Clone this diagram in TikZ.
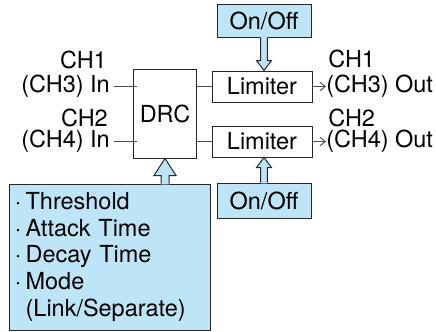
\documentclass[tikz,border=0pt]{standalone}
\usepackage{fontspec}
\setmainfont{TeX Gyre Heros}
\usetikzlibrary{arrows.meta,calc}

\definecolor{setblue}{RGB}{190,228,248}
\newcommand{\diafont}{\fontsize{17.6pt}{19.9pt}\selectfont}
\newcommand{\dotitem}{\makebox[9.5pt][l]{\hspace{1.5pt}·}}
% hollow block arrow: from, to, shaft half width, head half width, head length
\newcommand{\fatarrow}[5]{%
  \path[fill=setblue] let \p1=(#1), \p2=(#2), \n1={(\y2-\y1)/abs(\y2-\y1)} in
    ({\x1-#3},{\y1-(\n1)*0.6pt}) -- ({\x1-#3},{\y2-(\n1)*#5}) -- ({\x1-#4},{\y2-(\n1)*#5})
    -- (\x1,\y2) -- ({\x1+#4},{\y2-(\n1)*#5}) -- ({\x1+#3},{\y2-(\n1)*#5})
    -- ({\x1+#3},{\y1-(\n1)*0.6pt}) -- cycle;
  \draw[boxline] let \p1=(#1), \p2=(#2), \n1={(\y2-\y1)/abs(\y2-\y1)} in
    ({\x1-#3},\y1) -- ({\x1-#3},{\y2-(\n1)*#5}) -- ({\x1-#4},{\y2-(\n1)*#5})
    -- (\x1,\y2) -- ({\x1+#4},{\y2-(\n1)*#5}) -- ({\x1+#3},{\y2-(\n1)*#5})
    -- ({\x1+#3},\y1);}

\begin{document}
\begin{tikzpicture}[x=0.75pt,y=-0.75pt]
\tikzset{
  every node/.style={font=\diafont},
  boxline/.style={draw=black!85,line width=0.75pt,line join=miter},
  block/.style={boxline,rectangle,inner sep=0pt},
  setbox/.style={block,fill=setblue},
  chlabel/.style={inner sep=0pt},
  wire/.style={draw=black!70,line width=0.75pt},
  outwire/.style={wire,-{Straight Barb[length=4pt,width=6.5pt,line width=0.7pt]}}
}
\useasboundingbox (0,0) rectangle (436,332);
% blocks
\node[block,minimum width=47.25pt,minimum height=66.75pt] (drc) at (165,113.5) {DRC};
\node[block,minimum width=75pt,minimum height=23.25pt] (lim1) at (262,86.5) {Limiter};
\node[block,minimum width=75pt,minimum height=23.25pt] (lim2) at (262,141.5) {Limiter};
\node[setbox,minimum width=70.5pt,minimum height=24.75pt] (onoff1) at (264,20.5) {On/Off};
\node[setbox,minimum width=70.5pt,minimum height=26.25pt] (onoff2) at (264,200.5) {On/Off};
\node[setbox,minimum width=150.75pt,minimum height=109.5pt,inner xsep=3pt,
      text width=144.75pt,align=left] (params) at (109.5,257)
  {\dotitem Threshold\\
   \dotitem Attack Time\\
   \dotitem Decay Time\\
   \dotitem Mode\\
   \hspace*{9.5pt}(Link/Separate)};
% channel labels
\node[chlabel,anchor=east] (ch1in) at (107,59.5) {CH1};
\node[chlabel,anchor=east] (in1) at (110,86) {(CH3) In};
\node[chlabel,anchor=east] (ch2in) at (108,117.5) {CH2};
\node[chlabel,anchor=east] (in2) at (110,141.5) {(CH4) In};
\node[chlabel,anchor=west] (ch1out) at (328,59) {CH1};
\node[chlabel,anchor=west] (out1) at (326,86.5) {(CH3) Out};
\node[chlabel,anchor=west] (ch2out) at (328,118) {CH2};
\node[chlabel,anchor=west] (out2) at (326,141.5) {(CH4) Out};
% signal lines
\draw[wire] ([xshift=3pt]in1.east) -- ([xshift=3pt]in1.east -| drc.west);
\draw[wire] ([xshift=3pt]in2.east) -- ([xshift=3pt]in2.east -| drc.west);
\draw[wire] (drc.east |- lim1.west) -- (lim1.west);
\draw[wire] (drc.east |- lim2.west) -- (lim2.west);
\draw[outwire] (lim1.east) -- (out1.west);
\draw[outwire] (lim2.east) -- (out2.west);
% control arrows
\fatarrow{onoff1.south}{lim1.north}{2.6pt}{5.6pt}{7.5pt}
\fatarrow{onoff2.north}{lim2.south}{2.6pt}{5.6pt}{7.5pt}
\fatarrow{drc.center |- params.north}{drc.south}{3pt}{8.25pt}{12.75pt}
\end{tikzpicture}
\end{document}
